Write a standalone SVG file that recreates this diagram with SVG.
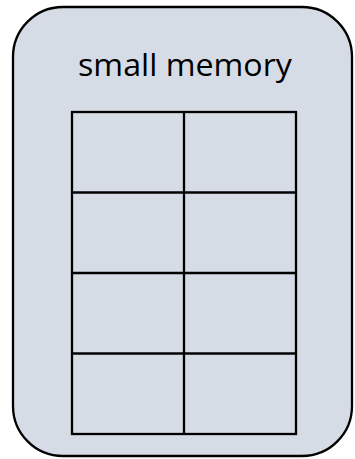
<svg xmlns="http://www.w3.org/2000/svg" width="355" height="459" viewBox="0 0 355 459">
<style>
.box{fill:#D6DCE5;stroke:#000;stroke-width:2.3}
.cell{fill:none;stroke:#000;stroke-width:2.3}
.lbl{font-family:"Open Sans","Liberation Sans",sans-serif;font-size:31px;fill:#000}
</style>
<rect width="355" height="459" fill="#fff"/>
<g id="memory">
<rect class="box" x="13" y="7" width="339" height="449" rx="50" ry="50"/>
<text class="lbl" x="185" y="76" text-anchor="middle" textLength="214" lengthAdjust="spacingAndGlyphs">small memory</text>
</g>
<g id="grid">
<rect class="cell" x="72" y="112" width="224" height="322"/>
<line class="cell" x1="184" y1="112" x2="184" y2="434"/>
<line class="cell" x1="72" y1="192.5" x2="296" y2="192.5"/>
<line class="cell" x1="72" y1="273" x2="296" y2="273"/>
<line class="cell" x1="72" y1="353.5" x2="296" y2="353.5"/>
</g>
</svg>
